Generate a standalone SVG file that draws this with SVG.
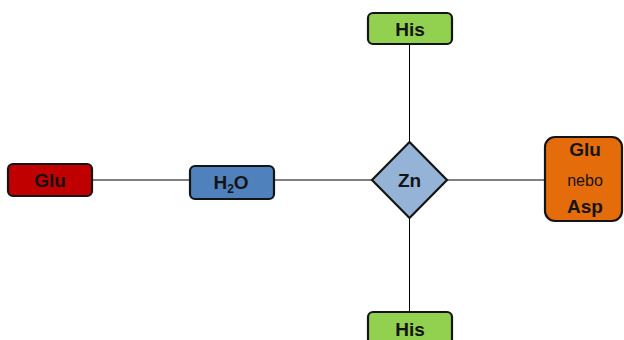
<svg xmlns="http://www.w3.org/2000/svg" width="624" height="340" viewBox="0 0 624 340">
  <style>
    .box { stroke: #141414; stroke-width: 2.2; }
    .lbl { font-family: "Liberation Sans", Arial, sans-serif; font-weight: bold; font-size: 19px; fill: #141414; text-anchor: middle; }
    .thin { font-weight: normal; font-size: 16px; }
    .conn { stroke: #000; stroke-width: 1; fill: none; }
  </style>
  <rect width="624" height="340" fill="#fff"/>
  <g id="connectors">
    <line class="conn" x1="92" y1="180" x2="190" y2="180"/>
    <line class="conn" x1="274" y1="180" x2="372" y2="180"/>
    <line class="conn" x1="447" y1="180" x2="545" y2="180"/>
    <line class="conn" x1="409.5" y1="44" x2="409.5" y2="142"/>
    <line class="conn" x1="409.5" y1="218" x2="409.5" y2="312"/>
  </g>
  <g id="glu">
    <rect class="box" x="8" y="164" width="84" height="32" rx="5" fill="#C00000"/>
    <text class="lbl" x="50" y="186.5">Glu</text>
  </g>
  <g id="h2o">
    <rect class="box" x="190" y="166" width="84" height="33" rx="5" fill="#4F81BD"/>
    <text class="lbl" x="231" y="189">H<tspan font-size="12" dy="4">2</tspan><tspan dy="-4">O</tspan></text>
  </g>
  <g id="zn">
    <polygon class="box" points="409.5,142 447,180 409.5,218 372,180" fill="#95B3D7"/>
    <text class="lbl" x="409.5" y="187">Zn</text>
  </g>
  <g id="his-top">
    <rect class="box" x="368" y="13" width="84" height="31" rx="5" fill="#92D050"/>
    <text class="lbl" x="410" y="36">His</text>
  </g>
  <g id="his-bottom">
    <rect class="box" x="368" y="312" width="84" height="32" rx="5" fill="#92D050"/>
    <text class="lbl" x="410" y="336">His</text>
  </g>
  <g id="glu-asp">
    <rect class="box" x="545" y="137" width="77" height="84" rx="10" fill="#E46C0A"/>
    <text class="lbl" x="585" y="156">Glu</text>
    <text class="lbl thin" x="585" y="186">nebo</text>
    <text class="lbl" x="585" y="213">Asp</text>
  </g>
</svg>
